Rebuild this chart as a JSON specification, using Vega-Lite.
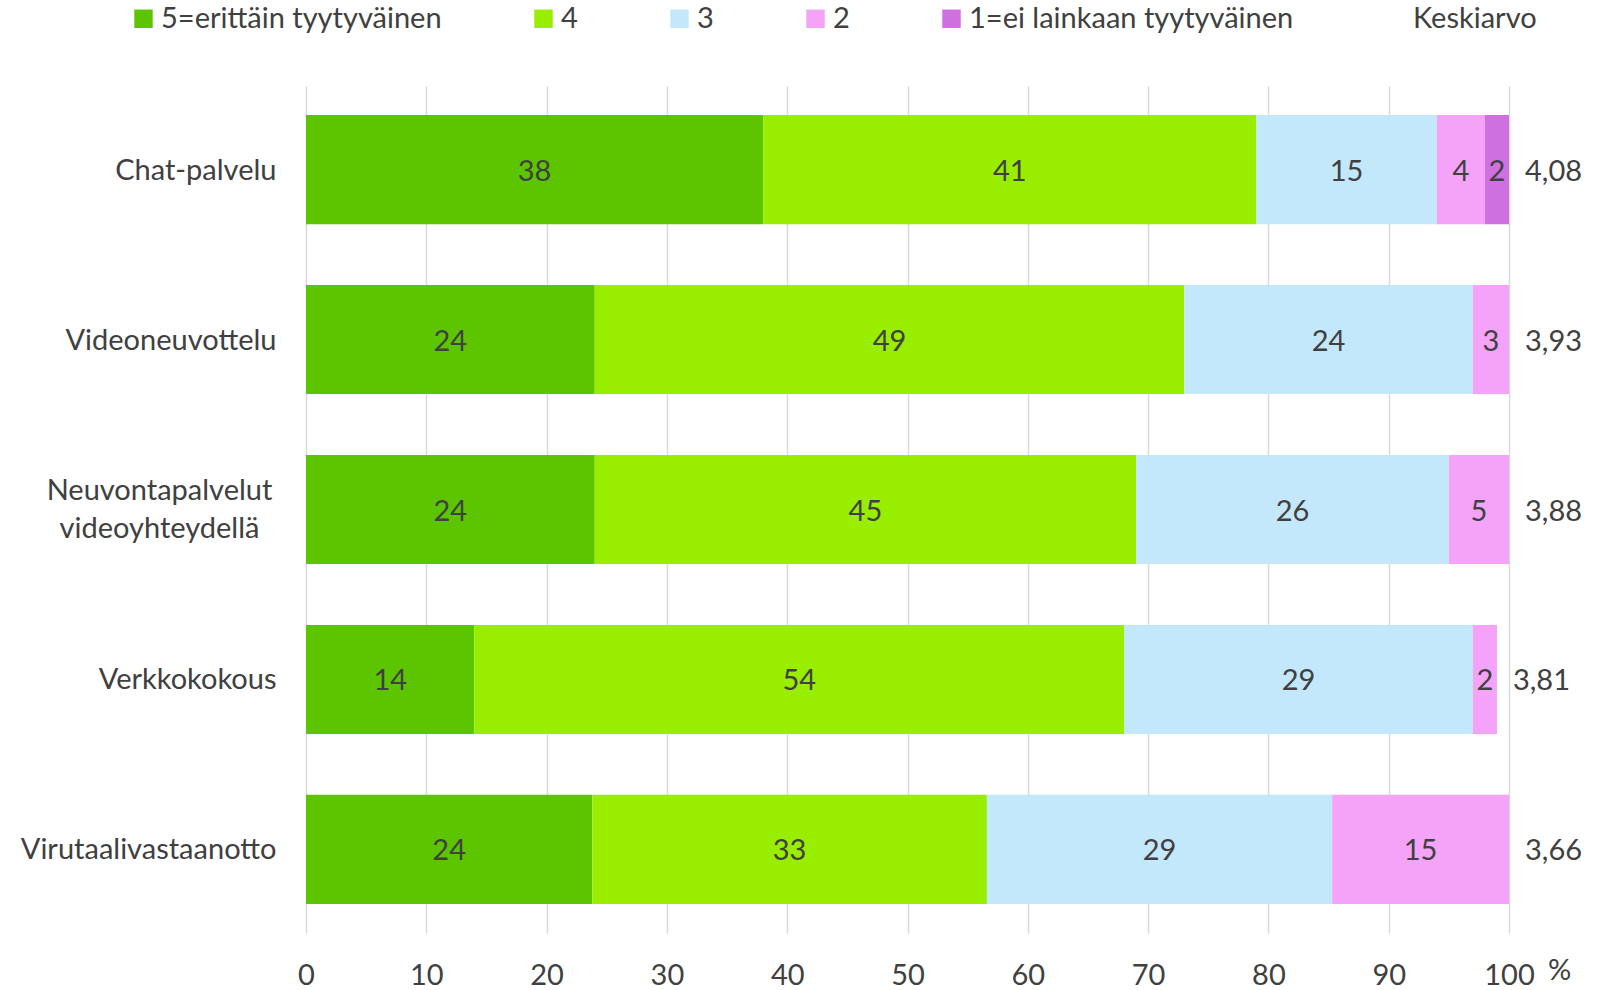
{
  "$schema": "https://vega.github.io/schema/vega-lite/v6.json",
  "width": 1203,
  "height": 847,
  "autosize": "none",
  "padding": {"left": 306, "top": 86, "right": 90, "bottom": 57},
  "background": "#ffffff",
  "config": {
    "font": "Lato",
    "view": {"stroke": null},
    "locale": {"number": {"decimal": ",", "thousands": " ", "grouping": [3], "currency": ["", " €"]}}
  },
  "datasets": {
    "jakauma": [
      {"kohde": "Chat-palvelu", "luokka": "5=erittäin tyytyväinen", "arvo": 38},
      {"kohde": "Chat-palvelu", "luokka": "4", "arvo": 41},
      {"kohde": "Chat-palvelu", "luokka": "3", "arvo": 15},
      {"kohde": "Chat-palvelu", "luokka": "2", "arvo": 4},
      {"kohde": "Chat-palvelu", "luokka": "1=ei lainkaan tyytyväinen", "arvo": 2},
      {"kohde": "Videoneuvottelu", "luokka": "5=erittäin tyytyväinen", "arvo": 24},
      {"kohde": "Videoneuvottelu", "luokka": "4", "arvo": 49},
      {"kohde": "Videoneuvottelu", "luokka": "3", "arvo": 24},
      {"kohde": "Videoneuvottelu", "luokka": "2", "arvo": 3},
      {"kohde": "Neuvontapalvelut videoyhteydellä", "luokka": "5=erittäin tyytyväinen", "arvo": 24},
      {"kohde": "Neuvontapalvelut videoyhteydellä", "luokka": "4", "arvo": 45},
      {"kohde": "Neuvontapalvelut videoyhteydellä", "luokka": "3", "arvo": 26},
      {"kohde": "Neuvontapalvelut videoyhteydellä", "luokka": "2", "arvo": 5},
      {"kohde": "Verkkokokous", "luokka": "5=erittäin tyytyväinen", "arvo": 14},
      {"kohde": "Verkkokokous", "luokka": "4", "arvo": 54},
      {"kohde": "Verkkokokous", "luokka": "3", "arvo": 29},
      {"kohde": "Verkkokokous", "luokka": "2", "arvo": 2},
      {"kohde": "Virutaalivastaanotto", "luokka": "5=erittäin tyytyväinen", "arvo": 23.8},
      {"kohde": "Virutaalivastaanotto", "luokka": "4", "arvo": 32.8},
      {"kohde": "Virutaalivastaanotto", "luokka": "3", "arvo": 28.7},
      {"kohde": "Virutaalivastaanotto", "luokka": "2", "arvo": 14.7}
    ],
    "keskiarvot": [
      {"kohde": "Chat-palvelu", "keskiarvo": 4.08},
      {"kohde": "Videoneuvottelu", "keskiarvo": 3.93},
      {"kohde": "Neuvontapalvelut videoyhteydellä", "keskiarvo": 3.88},
      {"kohde": "Verkkokokous", "keskiarvo": 3.81},
      {"kohde": "Virutaalivastaanotto", "keskiarvo": 3.66}
    ]
  },
  "data": {"name": "jakauma"},
  "encoding": {
    "y": {
      "field": "kohde",
      "type": "nominal",
      "sort": ["Chat-palvelu", "Videoneuvottelu", "Neuvontapalvelut videoyhteydellä", "Verkkokokous", "Virutaalivastaanotto"],
      "scale": {"paddingInner": 0.358, "paddingOuter": 0.171},
      "axis": {
        "title": null,
        "domain": false,
        "ticks": false,
        "grid": false,
        "labelFontSize": 29,
        "labelColor": "#404040",
        "labelPadding": {"condition": {"test": "datum.value == 'Neuvontapalvelut videoyhteydellä'", "value": 147}, "value": 30},
        "labelAlign": {"condition": {"test": "datum.value == 'Neuvontapalvelut videoyhteydellä'", "value": "center"}, "value": "right"},
        "labelOffset": {"condition": {"test": "datum.value == 'Neuvontapalvelut videoyhteydellä'", "value": -19}, "value": 1},
        "labelLineHeight": 38,
        "labelLimit": 400,
        "labelExpr": "datum.value == 'Neuvontapalvelut videoyhteydellä' ? ['Neuvontapalvelut', 'videoyhteydellä'] : datum.label"
      }
    }
  },
  "layer": [
    {
      "transform": [
        {"stack": "arvo", "groupby": ["kohde"], "sort": [{"field": "luokka", "order": "descending"}], "as": ["x0", "x1"]}
      ],
      "mark": {"type": "bar"},
      "encoding": {
        "x": {
          "field": "x0",
          "type": "quantitative",
          "scale": {"domain": [0, 100], "nice": false},
          "axis": {
            "title": "%",
            "titleX": 1253,
            "titleY": 37,
            "titleAlign": "center",
            "titleBaseline": "middle",
            "titleFontSize": 29,
            "titleFontWeight": "normal",
            "titleColor": "#404040",
            "values": [0, 10, 20, 30, 40, 50, 60, 70, 80, 90, 100],
            "domain": false,
            "ticks": false,
            "grid": true,
            "gridColor": "#D9D9D9",
            "gridWidth": 1.5,
            "labelFontSize": 29,
            "labelColor": "#404040",
            "labelPadding": 28,
            "labelFlush": false,
            "labelOverlap": false
          }
        },
        "x2": {"field": "x1"},
        "color": {
          "field": "luokka",
          "type": "nominal",
          "scale": {
            "domain": ["5=erittäin tyytyväinen", "4", "3", "2", "1=ei lainkaan tyytyväinen", "Keskiarvo"],
            "range": ["#5DC500", "#99EE00", "#C4E8FB", "#F4A3F9", "#CF70E0", "transparent"]
          },
          "legend": {
            "title": null,
            "orient": "none",
            "direction": "horizontal",
            "legendX": -177,
            "legendY": -82,
            "padding": 0,
            "symbolType": "square",
            "symbolSize": 340,
            "symbolStrokeWidth": 0,
            "symbolOpacity": 1,
            "labelFontSize": 29,
            "labelColor": "#404040",
            "labelOffset": 3,
            "labelLimit": 500,
            "columnPadding": 87,
            "columns": 6
          }
        }
      }
    },
    {
      "transform": [
        {"stack": "arvo", "groupby": ["kohde"], "sort": [{"field": "luokka", "order": "descending"}], "as": ["x0", "x1"]},
        {"calculate": "(datum.x0 + datum.x1) / 2", "as": "keski"}
      ],
      "mark": {"type": "text", "fontSize": 29, "color": "#404040", "baseline": "middle", "align": "center", "dy": 2},
      "encoding": {
        "x": {"field": "keski", "type": "quantitative"},
        "text": {"field": "arvo", "type": "quantitative", "format": ".0f"}
      }
    },
    {
      "transform": [
        {"aggregate": [{"op": "sum", "field": "arvo", "as": "yhteensa"}], "groupby": ["kohde"]},
        {"lookup": "kohde", "from": {"data": {"name": "keskiarvot"}, "key": "kohde", "fields": ["keskiarvo"]}}
      ],
      "mark": {"type": "text", "fontSize": 29, "color": "#404040", "baseline": "middle", "align": "left", "dx": 16, "dy": 2},
      "encoding": {
        "x": {"field": "yhteensa", "type": "quantitative"},
        "text": {"field": "keskiarvo", "type": "quantitative", "format": ".2f"}
      }
    }
  ]
}
